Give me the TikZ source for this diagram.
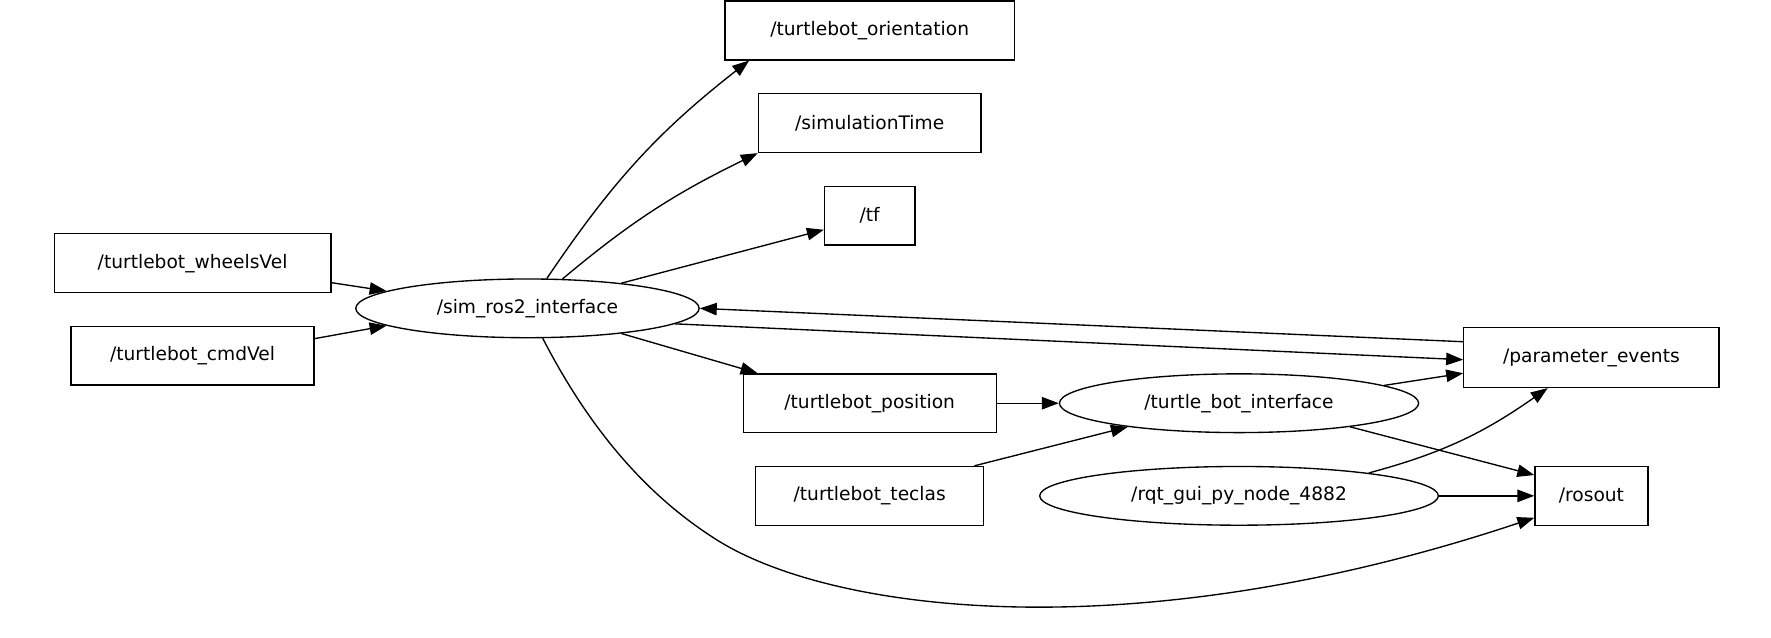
\documentclass[tikz,border=0pt]{standalone}
\usepackage{fontspec}
\setmainfont{DejaVu Sans}
\usepackage{tikz}
\usetikzlibrary{shapes.geometric, arrows.meta, positioning}

\begin{document}
\begin{tikzpicture}[x=1pt, y=-1pt,
    every node/.style={font=\fontsize{16.5}{19}\selectfont, line width=1.2pt, minimum height=52pt, inner sep=0pt},
    topic/.style={draw, rectangle},
    rosnode/.style={draw, ellipse},
    edge/.style={line width=1.2pt, -{Triangle[length=15pt, width=11pt]}}]
    \useasboundingbox (0,0) rectangle (1568,564);

    % Topics
    \node[topic, minimum width=256pt] (orient) at (770,27) {/turtlebot\_orientation};
    \node[topic, minimum width=197pt] (simtime) at (770,109) {/simulationTime};
    \node[topic, minimum width=80pt] (tf) at (770,191) {/tf};
    \node[topic, minimum width=245pt] (wheels) at (170.5,233) {/turtlebot\_wheelsVel};
    \node[topic, minimum width=215pt] (cmdvel) at (170.5,315) {/turtlebot\_cmdVel};
    \node[topic, minimum width=226pt, minimum height=53pt] (params) at (1409,316.5) {/parameter\_events};
    \node[topic, minimum width=224pt] (position) at (770,357) {/turtlebot\_position};
    \node[topic, minimum width=202pt] (teclas) at (770,439) {/turtlebot\_teclas};
    \node[topic, minimum width=100pt] (rosout) at (1409,439) {/rosout};

    % ROS nodes
    \node[rosnode, minimum width=304pt] (sim) at (467,273) {/sim\_ros2\_interface};
    \node[rosnode, minimum width=318pt] (tbi) at (1097,357) {/turtle\_bot\_interface};
    \node[rosnode, minimum width=353pt] (rqt) at (1097,439) {/rqt\_gui\_py\_node\_4882};

    % Publishers of sim_ros2_interface
    \draw[edge] (sim.57) to[out=56, in=218] (orient.194);
    \draw[edge] (sim.40) to[out=40, in=206] (simtime.south west);
    \draw[edge] (sim.15) -- (tf.197);
    \draw[edge] (sim.-15.5) -- (position.165);
    \draw[edge] (sim.-6.4) -- (params.181);
    \draw[edge] (sim.-63) .. controls (521,378) and (570,436) .. (630,475)
        .. controls (730,542) and (1000,578) .. (rosout.201);

    % Subscriptions
    \draw[edge] (wheels.-8.4) -- (sim.173);
    \draw[edge] (cmdvel.8.5) -- (sim.187.5);
    \draw[edge] (params.173.7) -- (sim.0.4);

    % turtle_bot_interface
    \draw[edge] (position.east) -- (tbi.west);
    \draw[edge] (teclas.16) -- (tbi.192);
    \draw[edge] (tbi.7.3) -- (params.187.3);
    \draw[edge] (tbi.-12) -- (rosout.160);

    % rqt
    \draw[edge] (rqt.10) to[out=15, in=215] (params.215);
    \draw[edge] (rqt.east) -- (rosout.west);
\end{tikzpicture}
\end{document}
